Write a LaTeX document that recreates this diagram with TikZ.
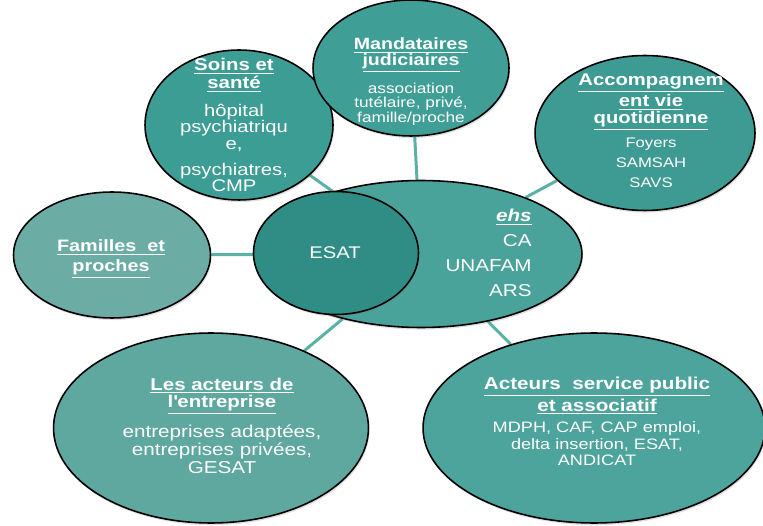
\documentclass[tikz,border=0pt]{standalone}
\usepackage{fontspec}
\setmainfont[FakeStretch=1.2]{Liberation Sans}
\usetikzlibrary{shapes.geometric,shadows,backgrounds}

\definecolor{soinsFill}{HTML}{3C9D94}
\definecolor{mandFill}{HTML}{3F9E96}
\definecolor{accFill}{HTML}{3E9B93}
\definecolor{famFill}{HTML}{6BADA5}
\definecolor{hubFill}{HTML}{4AA39B}
\definecolor{esatFill}{HTML}{2F8D86}
\definecolor{entFill}{HTML}{5EA89F}
\definecolor{pubFill}{HTML}{4DA49C}
\definecolor{lineTeal}{HTML}{5BB1A6}

\newcommand{\hd}[1]{\textbf{\underline{#1}}}

\begin{document}
\begin{tikzpicture}[x=0.02cm, y=-0.02cm,
  bubble/.style={ellipse, draw=black, line width=0.9pt, inner sep=0pt,
    drop shadow={opacity=0.25, shadow xshift=0.6pt, shadow yshift=-1.2pt}},
  txt/.style={text=white, align=center, inner sep=0pt},
  conn/.style={draw=lineTeal, line width=1.7pt}]

\useasboundingbox (0,0) rectangle (763,526);

% Satellites

\node[bubble, fill=soinsFill, minimum width=3.76cm, minimum height=3cm]   (soins)      at (239,125) {};
\node[bubble, fill=mandFill,  minimum width=3.92cm, minimum height=2.72cm] (mandataires) at (411,68)  {};
\node[bubble, fill=accFill,   minimum width=4.4cm,  minimum height=3.1cm]  (accomp)     at (645,133) {};
\node[bubble, fill=famFill,   minimum width=3.94cm, minimum height=2.52cm] (familles)   at (112,255) {};
\node[bubble, fill=entFill,   minimum width=6.3cm,  minimum height=3.8cm]  (entreprise) at (211,428) {};
\node[bubble, fill=pubFill,   minimum width=6.84cm, minimum height=3.8cm]  (public)     at (594,428) {};

% Hub and ESAT

\node[bubble, fill=hubFill,  minimum width=6.44cm, minimum height=2.94cm] (hub)  at (421,254) {};
\node[bubble, fill=esatFill, minimum width=3.3cm,  minimum height=2.46cm] (esat) at (336,253) {};

% Connectors

\begin{pgfonlayer}{background}
\draw[conn] (hub) -- (soins);
\draw[conn] (hub) -- (mandataires);
\draw[conn] (hub) -- (accomp);
\draw[conn] (hub) -- (familles);
\draw[conn] (hub) -- (entreprise);
\draw[conn] (hub) -- (public);
\end{pgfonlayer}

% Texts

\node[txt, font=\fontsize{9.7}{10.2}\selectfont] (soinsHead) at (234,75)    {\hd{Soins et}\\\hd{santé}};
\node[txt, font=\fontsize{9.6}{9.3}\selectfont]  (soinsBody) at (234,148)   {hôpital\\psychiatriqu\\e,\\[5.5pt]psychiatres,\\CMP};

\node[txt, font=\fontsize{9.3}{9.3}\selectfont]  (mandHead)  at (411,55)    {\hd{Mandataires}\\\hd{judiciaires}};
\node[txt, font=\fontsize{8.2}{8.3}\selectfont]  (mandBody)  at (411,104)   {association\\tutélaire, privé,\\famille/proche};

\node[txt, font=\fontsize{9.6}{9.6}\selectfont]  (accHead)   at (651,102)   {\hd{Accompagnem}\\\hd{ent vie}\\\hd{quotidienne}};
\node[txt, font=\fontsize{7.9}{11.3}\selectfont] (accBody)   at (651,163)   {Foyers\\SAMSAH\\SAVS};

\node[txt, font=\fontsize{9.8}{14.2}\selectfont, align=right, anchor=east] (hubText) at (532,253) {\textbf{\textit{\underline{ehs}}}\\CA\\UNAFAM\\ARS};
\node[txt, font=\fontsize{9.6}{11}\selectfont]   (esatText)  at (335,253)   {ESAT};

\node[txt, font=\fontsize{9.4}{11.2}\selectfont] (famHead)   at (111,259)   {\hd{Familles\ \ et}\\\hd{proches}};

\node[txt, font=\fontsize{9.7}{9.8}\selectfont]  (entHead)   at (222,396)   {\hd{Les acteurs de}\\\hd{l\textquotesingle entreprise}};
\node[txt, font=\fontsize{9.8}{10.2}\selectfont] (entBody)   at (222,449)   {entreprises adaptées,\\entreprises privées,\\GESAT};

\node[txt, font=\fontsize{9.8}{10.2}\selectfont] (pubHead)   at (597,396)   {\hd{Acteurs\ \ service public}\\\hd{et associatif}};
\node[txt, font=\fontsize{8.6}{9.4}\selectfont]  (pubBody)   at (597,444)   {MDPH, CAF, CAP emploi,\\delta insertion, ESAT,\\ANDICAT};

\end{tikzpicture}
\end{document}
